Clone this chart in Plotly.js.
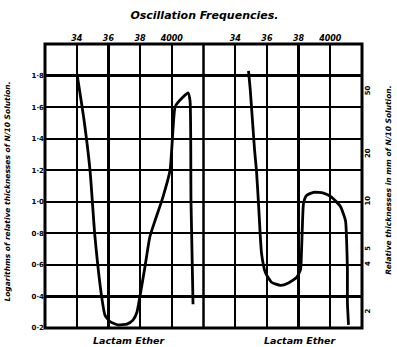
<!DOCTYPE html>
<html>
<head>
<meta charset="utf-8">
<script src="https://cdn.plot.ly/plotly-3.0.1.min.js"></script>
<style>html,body{margin:0;padding:0;background:#fff}#chart{width:397px;height:347px}</style>
</head>
<body>
<div id="chart"></div>
<script>
// Frequency grid and labels (each panel 3200..4200)
var freqTicks = [3200, 3400, 3600, 3800, 4000, 4200];
var freqLabels = ["", "34", "36", "38", "4000", ""];
// Left (logarithm) axis
var logTicks = [0.2, 0.4, 0.6, 0.8, 1.0, 1.2, 1.4, 1.6, 1.8, 2.0];
var logLabels = ["0·2", "0·4", "0·6", "0·8", "1·0", "1·2", "1·4", "1·6", "1·8", ""];
// Right (thickness, mm) axis
var thickTicks = [2, 4, 5, 10, 20, 50];
var thickLabels = ["2", "4", "5", "10", "20", "50"];

// Left curve: Lactam Ether
var leftFreq = [3402, 3446, 3484, 3515, 3560, 3579, 3610, 3661, 3717, 3755, 3780, 3799, 3831, 3862, 3894, 3944, 3989, 4020, 4039, 4102, 4115, 4121, 4134];
var leftLog  = [1.81, 1.52, 1.20, 0.78, 0.38, 0.28, 0.24, 0.22, 0.225, 0.25, 0.30, 0.40, 0.59, 0.78, 0.88, 1.03, 1.20, 1.60, 1.63, 1.69, 1.64, 1.01, 0.35];
// Right curve: Lactam Ether
var rightFreq = [3484, 3495, 3522, 3534, 3547, 3566, 3591, 3629, 3686, 3736, 3787, 3812, 3818, 3825, 3831, 3850, 3894, 3957, 4008, 4064, 4096, 4102, 4108, 4108, 4115];
var rightLog  = [1.83, 1.71, 1.33, 1.20, 0.99, 0.675, 0.55, 0.49, 0.47, 0.485, 0.52, 0.57, 0.675, 0.88, 0.99, 1.04, 1.06, 1.055, 1.03, 0.97, 0.88, 0.78, 0.57, 0.36, 0.22];

var FONT = "DejaVu Sans, sans-serif";
var curveLine = {color: "#000", width: 2.8, shape: "spline", smoothing: 0.5};

var traces = [
  {x: leftFreq, y: leftLog, xaxis: "x", yaxis: "y", mode: "lines", line: curveLine, showlegend: false, hoverinfo: "skip"},
  {x: rightFreq, y: rightLog, xaxis: "x2", yaxis: "y", mode: "lines", line: curveLine, showlegend: false, hoverinfo: "skip"},
  {x: [3200], y: [10], xaxis: "x2", yaxis: "y2", mode: "markers", marker: {opacity: 0}, showlegend: false, hoverinfo: "skip"}
];

function xax(domain) {
  return {
    domain: domain, range: [3200, 4200], side: "top", anchor: "y",
    tickmode: "array", tickvals: freqTicks, ticktext: freqLabels,
    showgrid: true, gridcolor: "#000", gridwidth: 2.3,
    showline: false, zeroline: false, ticks: "", ticklen: 0,
    tickfont: {family: FONT, size: 8, color: "#000", weight: "bold", style: "italic"}
  };
}

var layout = {
  width: 397, height: 347,
  margin: {l: 45, r: 35, t: 44, b: 19, pad: 0},
  paper_bgcolor: "#fff", plot_bgcolor: "#fff",
  showlegend: false,
  title: {text: "Oscillation Frequencies.", x: 0.515, xanchor: "center", y: 0.957, yanchor: "middle",
          font: {family: FONT, size: 11, color: "#000", weight: "bold", style: "italic"}},
  xaxis: xax([0, 0.5]),
  xaxis2: xax([0.5, 1]),
  yaxis: {
    range: [0.2, 2.0], anchor: "x", tickmode: "array", tickvals: logTicks, ticktext: logLabels,
    showgrid: true, gridcolor: "#000", gridwidth: 2.3, zeroline: false, showline: false,
    ticks: "", tickfont: {family: FONT, size: 7, color: "#000", weight: "bold"}
  },
  yaxis2: {
    type: "log", range: [0.2, 2.0], overlaying: "y", side: "right", anchor: "x2",
    tickmode: "array", tickvals: thickTicks, ticktext: thickLabels, tickangle: -90,
    showgrid: false, zeroline: false, showline: false, ticks: "",
    tickfont: {family: FONT, size: 7, color: "#000", weight: "bold"}
  },
  shapes: [
    {type: "rect", xref: "paper", yref: "paper", x0: 0, x1: 1, y0: 0, y1: 1, line: {color: "#000", width: 3}},
    {type: "line", xref: "paper", yref: "paper", x0: 0.5, x1: 0.5, y0: 0, y1: 1, line: {color: "#000", width: 2.5}}
  ],
  annotations: [
    {text: "Logarithms of relative thicknesses of N/10 Solution.", xref: "paper", yref: "paper",
     x: -0.117, y: 0.48, textangle: -90, showarrow: false, xanchor: "center", yanchor: "middle",
     font: {family: FONT, size: 7.5, color: "#000", weight: "bold", style: "italic"}},
    {text: "Relative thicknesses in mm of N/10 Solution.", xref: "paper", yref: "paper",
     x: 1.083, y: 0.52, textangle: -90, showarrow: false, xanchor: "center", yanchor: "middle",
     font: {family: FONT, size: 7.5, color: "#000", weight: "bold", style: "italic"}},
    {text: "Lactam Ether", xref: "paper", yref: "paper", x: 0.265, y: -0.045, showarrow: false,
     xanchor: "center", yanchor: "middle",
     font: {family: FONT, size: 9.5, color: "#000", weight: "bold", style: "italic"}},
    {text: "Lactam Ether", xref: "paper", yref: "paper", x: 0.805, y: -0.045, showarrow: false,
     xanchor: "center", yanchor: "middle",
     font: {family: FONT, size: 9.5, color: "#000", weight: "bold", style: "italic"}}
  ]
};

Plotly.newPlot("chart", traces, layout, {staticPlot: true, displayModeBar: false});
</script>
</body>
</html>
